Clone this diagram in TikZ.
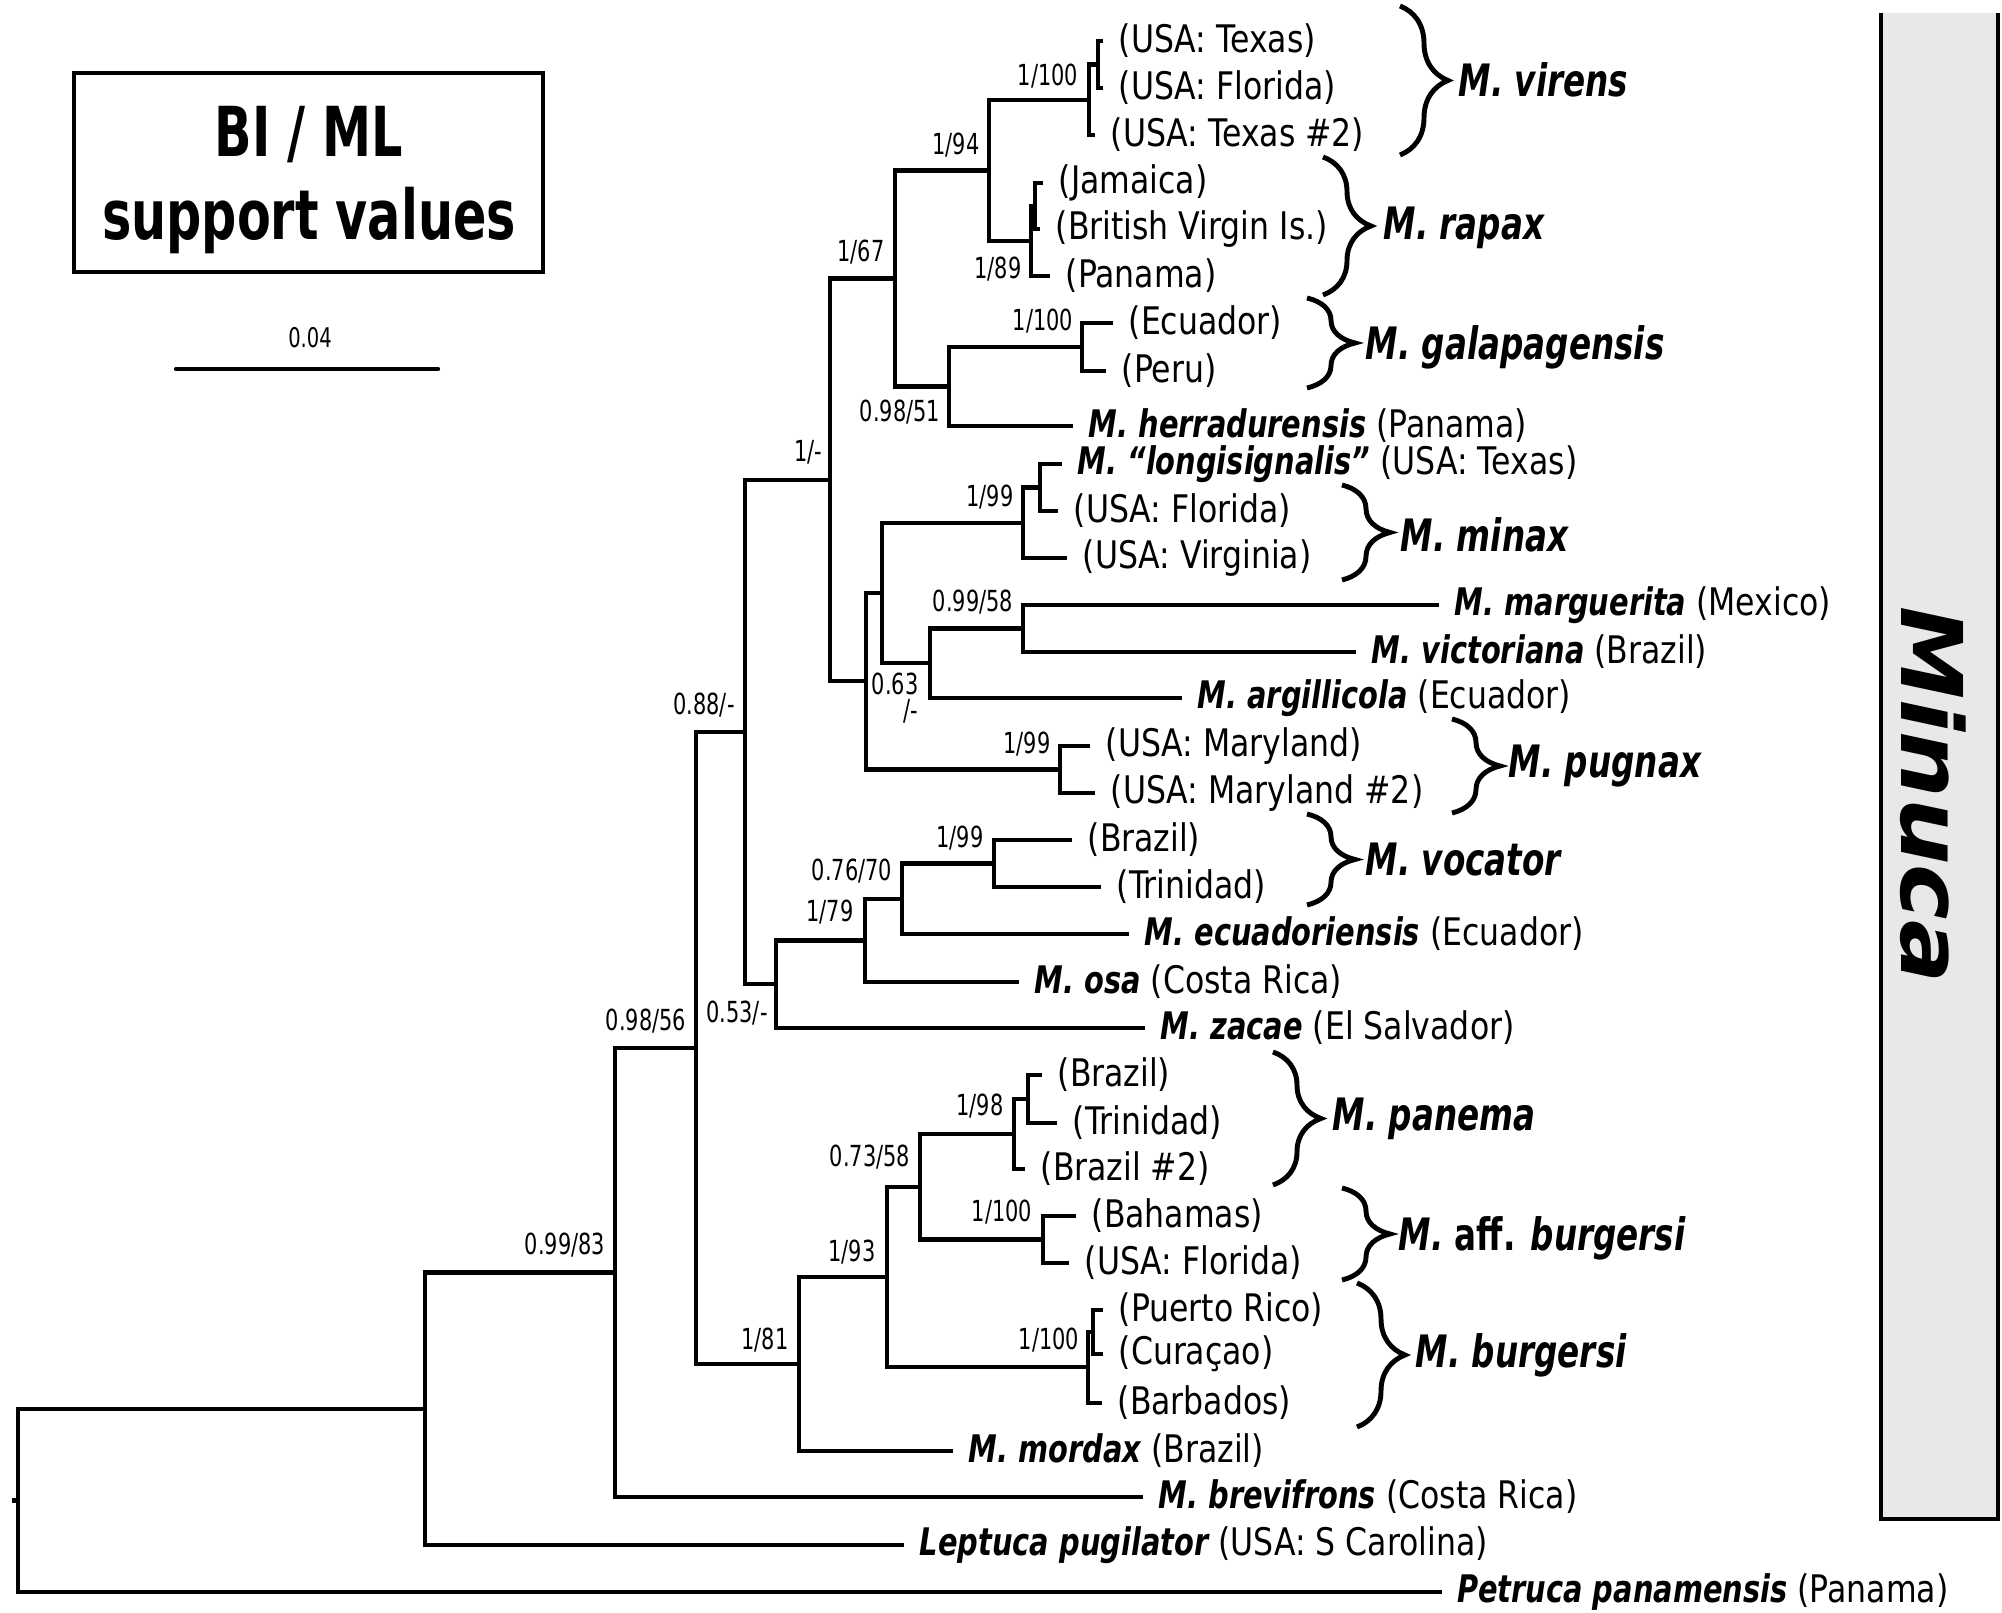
\documentclass[tikz,border=0pt]{standalone}
\usepackage{fontspec}
\setmainfont{DejaVu Sans}
\newfontfamily\locfont{DejaVu Sans}[FakeStretch=0.83]
\newfontfamily\spfont{DejaVu Sans}[FakeStretch=0.76]
\newfontfamily\cladefont{DejaVu Sans}[FakeStretch=0.73]
\newfontfamily\supfont{DejaVu Sans}[FakeStretch=0.72]
\newfontfamily\boxfont{DejaVu Sans}[FakeStretch=0.715]
\newfontfamily\genusfont{DejaVu Sans}[FakeStretch=1.1]
\usetikzlibrary{decorations.pathreplacing}
\definecolor{genusgray}{HTML}{E8E8E8}
\newcommand{\taxon}[1]{{\spfont\bfseries\itshape #1}}
\tikzset{
  branch/.style={line width=1.25pt},
  tiplab/.style={anchor=west, inner sep=0pt, xshift=0.15cm, font=\locfont\fontsize{10.8}{12}\selectfont},
  supp/.style={inner sep=0pt, font=\supfont\fontsize{8.25}{7.2}\selectfont},
  cladebrace/.style={decorate, decoration={brace, amplitude=0.48cm}, line width=1.4pt},
  cladelab/.style={anchor=west, inner sep=0pt, font=\cladefont\bfseries\itshape\fontsize{12.7}{14}\selectfont},
  legendbox/.style={draw, line width=1.25pt, minimum width=4.69cm, minimum height=1.99cm},
  legendtext/.style={align=center, inner sep=0pt, font=\boxfont\bfseries\fontsize{19.6}{23.6}\selectfont}
}

\begin{document}
\begin{tikzpicture}[x=0.01cm, y=-0.01cm]
  \useasboundingbox (0,0) rectangle (2002,1613);

  % genus panel
  \fill[genusgray] (1881,13) rectangle (1998,1519);
  \draw[branch] (1881,13) -- (1881,1519) -- (1998,1519) -- (1998,13);
  \node[rotate=-90, inner sep=0pt, font=\genusfont\bfseries\itshape\fontsize{24.2}{28}\selectfont] (genus) at (1933,795) {Minuca};

  % legend and scale
  \node[legendbox] (legend) at (308.5,172.5) {};
  \node[legendtext] (legendtxt) at (309,180.5) {BI / ML\\support values};
  \coordinate (sbl) at (176,369);
  \coordinate (sbr) at (438,369);
  \draw[branch, line cap=round] (sbl) -- (sbr);
  \node[inner sep=0pt, font=\supfont\fontsize{7.7}{9}\selectfont] (sblab) at (310,338) {0.04};

  % tips
  \coordinate (t1) at (1103,41);
  \coordinate (t2) at (1103,88);
  \coordinate (t3) at (1095,135);
  \coordinate (t4) at (1043,183);
  \coordinate (t5) at (1040,229);
  \coordinate (t6) at (1050,276);
  \coordinate (t7) at (1113,323);
  \coordinate (t8) at (1106,371);
  \coordinate (t9) at (1073,426);
  \coordinate (t10) at (1062,464);
  \coordinate (t11) at (1058,511);
  \coordinate (t12) at (1067,558);
  \coordinate (t13) at (1439,605);
  \coordinate (t14) at (1356,652);
  \coordinate (t15) at (1182,698);
  \coordinate (t16) at (1090,746);
  \coordinate (t17) at (1095,793);
  \coordinate (t18) at (1072,840);
  \coordinate (t19) at (1101,887);
  \coordinate (t20) at (1129,934);
  \coordinate (t21) at (1019,982);
  \coordinate (t22) at (1145,1028);
  \coordinate (t23) at (1042,1075);
  \coordinate (t24) at (1057,1123);
  \coordinate (t25) at (1025,1169);
  \coordinate (t26) at (1076,1216);
  \coordinate (t27) at (1069,1263);
  \coordinate (t28) at (1103,1310);
  \coordinate (t29) at (1103,1354);
  \coordinate (t30) at (1102,1403);
  \coordinate (t31) at (953,1451);
  \coordinate (t32) at (1143,1497);
  \coordinate (t33) at (904,1545);
  \coordinate (t34) at (1442,1592);

  % internal nodes
  \coordinate (nVirB) at (1098,64.5);
  \coordinate (nVirA) at (1089,99.8);
  \coordinate (nRapB) at (1035,206);
  \coordinate (nRapA) at (1031,241);
  \coordinate (n194) at (989,170.4);
  \coordinate (nGal) at (1082,347);
  \coordinate (n9851) at (949,386.5);
  \coordinate (n167) at (895,278.4);
  \coordinate (nMinB) at (1040,487.5);
  \coordinate (nMinA) at (1023,522.8);
  \coordinate (n9958) at (1023,628.5);
  \coordinate (n063) at (930,663.3);
  \coordinate (nMid) at (882,593);
  \coordinate (nPug) at (1060,769.5);
  \coordinate (nLow) at (866,681.3);
  \coordinate (n1dash) at (830,479.8);
  \coordinate (nVoc) at (994,863.5);
  \coordinate (n7670) at (902,898.8);
  \coordinate (n179) at (865,940.4);
  \coordinate (n053) at (776,984.2);
  \coordinate (n088) at (745,732);
  \coordinate (nPanB) at (1028,1099);
  \coordinate (n198) at (1014,1134);
  \coordinate (nAff) at (1043,1239.5);
  \coordinate (n7358) at (920,1186.8);
  \coordinate (nBurB) at (1093,1332);
  \coordinate (nBurA) at (1088,1367);
  \coordinate (n193) at (887,1276.9);
  \coordinate (n181) at (799,1364);
  \coordinate (n9856) at (696,1048);
  \coordinate (n9983) at (615,1272.5);
  \coordinate (nOut) at (425,1408.8);
  \coordinate (root) at (18,1500.4);
  \coordinate (rootstub) at (12,1500.4);

  % branches
  \draw[branch] (t1) -| (nVirB) |- (t2);
  \draw[branch] (nVirB) -| (nVirA) |- (t3);
  \draw[branch] (t4) -| (nRapB) |- (t5);
  \draw[branch] (nRapB) -| (nRapA) |- (t6);
  \draw[branch] (nVirA) -| (n194) |- (nRapA);
  \draw[branch] (t7) -| (nGal) |- (t8);
  \draw[branch] (nGal) -| (n9851) |- (t9);
  \draw[branch] (n194) -| (n167) |- (n9851);
  \draw[branch] (t10) -| (nMinB) |- (t11);
  \draw[branch] (nMinB) -| (nMinA) |- (t12);
  \draw[branch] (t13) -| (n9958) |- (t14);
  \draw[branch] (n9958) -| (n063) |- (t15);
  \draw[branch] (nMinA) -| (nMid) |- (n063);
  \draw[branch] (t16) -| (nPug) |- (t17);
  \draw[branch] (nMid) -| (nLow) |- (nPug);
  \draw[branch] (n167) -| (n1dash) |- (nLow);
  \draw[branch] (t18) -| (nVoc) |- (t19);
  \draw[branch] (nVoc) -| (n7670) |- (t20);
  \draw[branch] (n7670) -| (n179) |- (t21);
  \draw[branch] (n179) -| (n053) |- (t22);
  \draw[branch] (n1dash) -| (n088) |- (n053);
  \draw[branch] (t23) -| (nPanB) |- (t24);
  \draw[branch] (nPanB) -| (n198) |- (t25);
  \draw[branch] (t26) -| (nAff) |- (t27);
  \draw[branch] (n198) -| (n7358) |- (nAff);
  \draw[branch] (t28) -| (nBurB) |- (t29);
  \draw[branch] (nBurB) -| (nBurA) |- (t30);
  \draw[branch] (n7358) -| (n193) |- (nBurA);
  \draw[branch] (n193) -| (n181) |- (t31);
  \draw[branch] (n088) -| (n9856) |- (n181);
  \draw[branch] (n9856) -| (n9983) |- (t32);
  \draw[branch] (n9983) -| (nOut) |- (t33);
  \draw[branch] (nOut) -| (root) |- (t34);
  \draw[branch] (rootstub) -- (root);

  % tip labels
  \node[tiplab] (l1) at (t1) {(USA: Texas)};
  \node[tiplab] (l2) at (t2) {(USA: Florida)};
  \node[tiplab] (l3) at (t3) {(USA: Texas \#2)};
  \node[tiplab] (l4) at (t4) {(Jamaica)};
  \node[tiplab] (l5) at (t5) {(British Virgin Is.)};
  \node[tiplab] (l6) at (t6) {(Panama)};
  \node[tiplab] (l7) at (t7) {(Ecuador)};
  \node[tiplab] (l8) at (t8) {(Peru)};
  \node[tiplab] (l9) at (t9) {\taxon{M. herradurensis} (Panama)};
  \node[tiplab] (l10) at (t10) {\taxon{M. “longisignalis”} (USA: Texas)};
  \node[tiplab] (l11) at (t11) {(USA: Florida)};
  \node[tiplab] (l12) at (t12) {(USA: Virginia)};
  \node[tiplab] (l13) at (t13) {\taxon{M. marguerita} (Mexico)};
  \node[tiplab] (l14) at (t14) {\taxon{M. victoriana} (Brazil)};
  \node[tiplab] (l15) at (t15) {\taxon{M. argillicola} (Ecuador)};
  \node[tiplab] (l16) at (t16) {(USA: Maryland)};
  \node[tiplab] (l17) at (t17) {(USA: Maryland \#2)};
  \node[tiplab] (l18) at (t18) {(Brazil)};
  \node[tiplab] (l19) at (t19) {(Trinidad)};
  \node[tiplab] (l20) at (t20) {\taxon{M. ecuadoriensis} (Ecuador)};
  \node[tiplab] (l21) at (t21) {\taxon{M. osa} (Costa Rica)};
  \node[tiplab] (l22) at (t22) {\taxon{M. zacae} (El Salvador)};
  \node[tiplab] (l23) at (t23) {(Brazil)};
  \node[tiplab] (l24) at (t24) {(Trinidad)};
  \node[tiplab] (l25) at (t25) {(Brazil \#2)};
  \node[tiplab] (l26) at (t26) {(Bahamas)};
  \node[tiplab] (l27) at (t27) {(USA: Florida)};
  \node[tiplab] (l28) at (t28) {(Puerto Rico)};
  \node[tiplab] (l29) at (t29) {(Curaçao)};
  \node[tiplab] (l30) at (t30) {(Barbados)};
  \node[tiplab] (l31) at (t31) {\taxon{M. mordax} (Brazil)};
  \node[tiplab] (l32) at (t32) {\taxon{M. brevifrons} (Costa Rica)};
  \node[tiplab] (l33) at (t33) {\taxon{Leptuca pugilator} (USA: S Carolina)};
  \node[tiplab] (l34) at (t34) {\taxon{Petruca panamensis} (Panama)};

  % support values
  \node[supp] (s1) at (1048,76) {1/100};
  \node[supp] (s2) at (956,145) {1/94};
  \node[supp] (s3) at (861,252) {1/67};
  \node[supp] (s4) at (998,269) {1/89};
  \node[supp] (s5) at (1043,321) {1/100};
  \node[supp] (s6) at (900,412) {0.98/51};
  \node[supp] (s7) at (808,452) {1/-};
  \node[supp] (s8) at (990,497) {1/99};
  \node[supp] (s9) at (973,602) {0.99/58};
  \node[supp, align=right, anchor=east] (s10) at (919,698) {0.63\\/-};
  \node[supp] (s11) at (1027,744) {1/99};
  \node[supp] (s12) at (704,705) {0.88/-};
  \node[supp] (s13) at (960,838) {1/99};
  \node[supp] (s14) at (852,871) {0.76/70};
  \node[supp] (s15) at (830,912) {1/79};
  \node[supp] (s16) at (737,1013) {0.53/-};
  \node[supp] (s17) at (646,1021) {0.98/56};
  \node[supp] (s18) at (980,1106) {1/98};
  \node[supp] (s19) at (870,1157) {0.73/58};
  \node[supp] (s20) at (1002,1212) {1/100};
  \node[supp] (s21) at (565,1245) {0.99/83};
  \node[supp] (s22) at (852,1252) {1/93};
  \node[supp] (s23) at (1049,1340) {1/100};
  \node[supp] (s24) at (765,1340) {1/81};

  % clade braces
  \draw[cladebrace] (1400,6) -- (1400,155);
  \node[cladelab] (c1) at (1458,80) {M. virens};
  \draw[cladebrace] (1323,157) -- (1323,295);
  \node[cladelab] (c2) at (1383,228) {M. rapax};
  \draw[cladebrace] (1307,298) -- (1307,388);
  \node[cladelab] (c3) at (1365,347) {M. galapagensis};
  \draw[cladebrace] (1342,485) -- (1342,580);
  \node[cladelab] (c4) at (1400,535) {M. minax};
  \draw[cladebrace] (1452,719) -- (1452,813);
  \node[cladelab] (c5) at (1508,766) {M. pugnax};
  \draw[cladebrace] (1307,814) -- (1307,905);
  \node[cladelab] (c6) at (1365,860) {M. vocator};
  \draw[cladebrace] (1273,1052) -- (1273,1185);
  \node[cladelab] (c7) at (1332,1119) {M. panema};
  \draw[cladebrace] (1342,1188) -- (1342,1280);
  \node[cladelab] (c8) at (1398,1238) {M. {\upshape aff.} burgersi};
  \draw[cladebrace] (1357,1283) -- (1357,1427);
  \node[cladelab] (c9) at (1415,1355) {M. burgersi};
\end{tikzpicture}
\end{document}
